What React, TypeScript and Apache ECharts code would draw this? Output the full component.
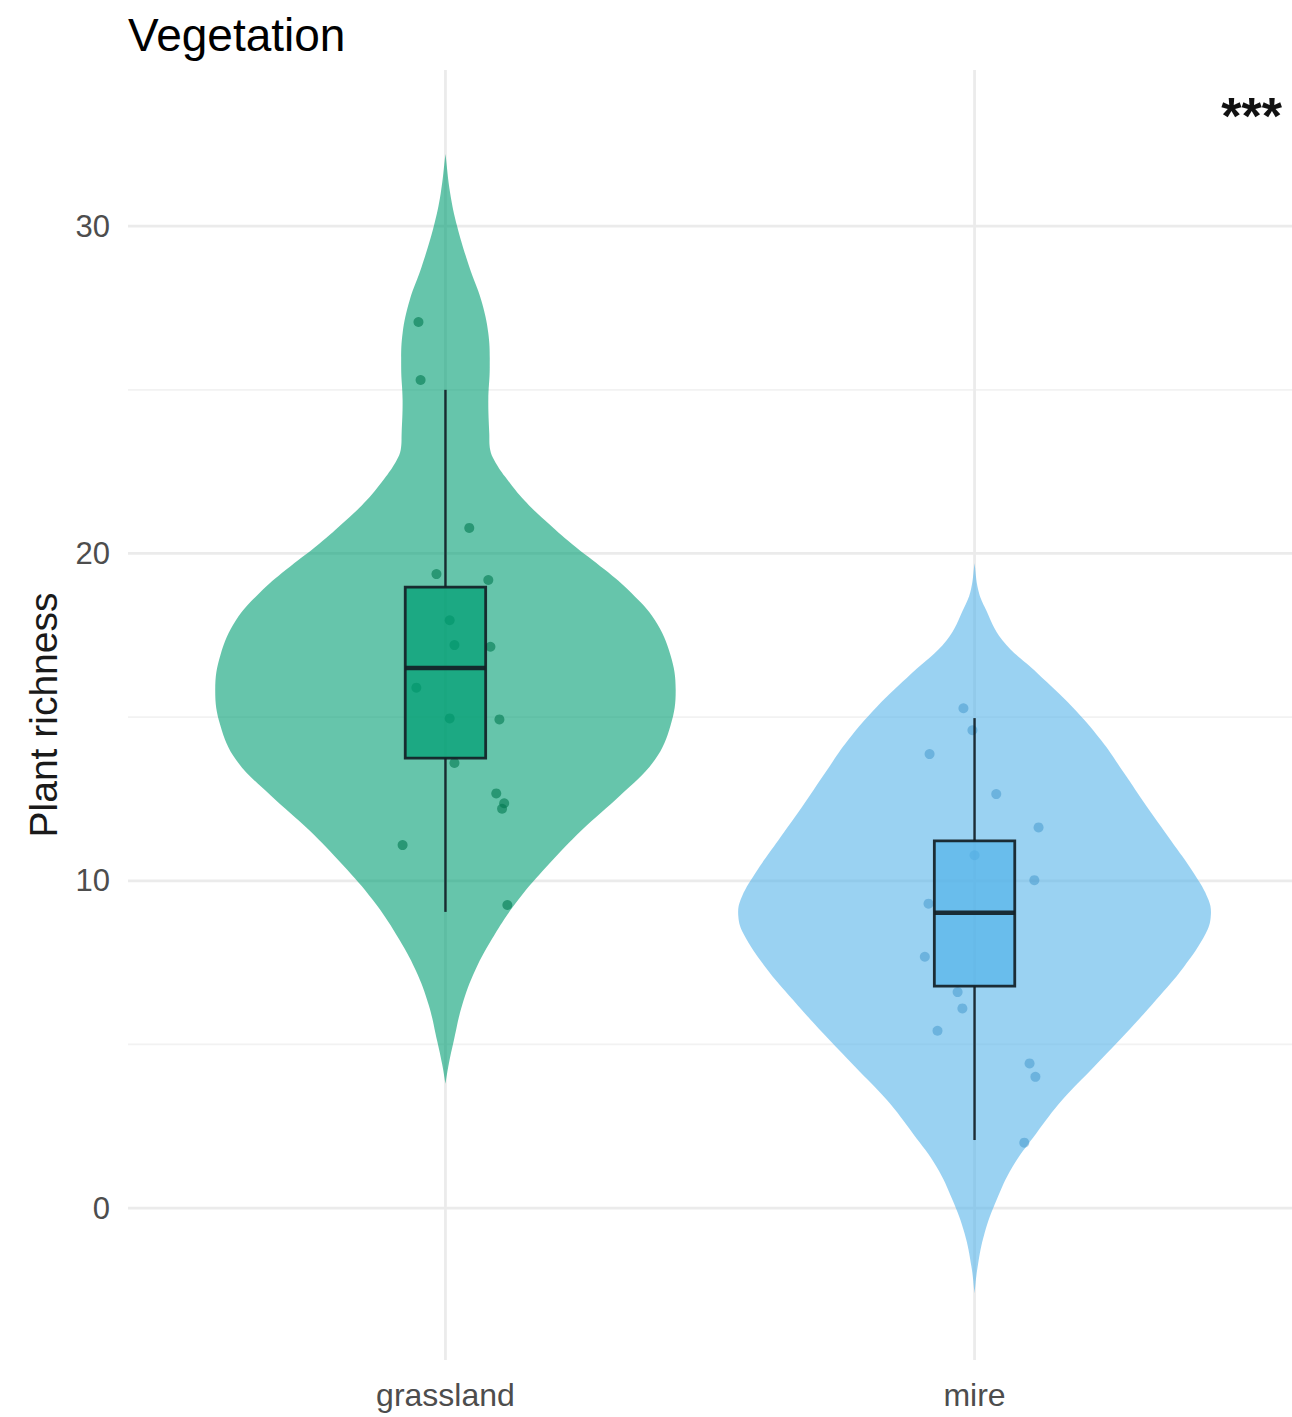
import React, { useEffect, useRef } from 'react';
import * as echarts from 'echarts';

// ---- data ----
const categories = ['grassland', 'mire'];
const yMajorTicks = [0, 10, 20, 30];
const yMinorTicks = [5, 15, 25];
const yMin = -4.64;
const yMax = 34.77;

// violin outlines: value (y) and relative density (1 = full half-width)
const grasslandDensityY = [32.2, 31.0, 30.0, 28.76, 27.74, 26.73, 25.7, 24.69, 23.67, 23.16, 22.85, 22.35, 21.63, 21.0, 20.3, 19.5, 18.8, 17.96, 16.9, 15.83, 14.76, 13.69, 12.62, 11.55, 10.48, 9.41, 8.34, 7.27, 6.2, 5.11, 4.4, 3.8];
const grasslandDensity = [0, 0.02, 0.049, 0.1, 0.15, 0.18, 0.186, 0.18, 0.184, 0.188, 0.205, 0.25, 0.33, 0.42, 0.53, 0.67, 0.78, 0.88, 0.945, 0.967, 0.946, 0.879, 0.736, 0.573, 0.431, 0.305, 0.205, 0.125, 0.07, 0.035, 0.014, 0];
const mireDensityY = [19.7, 18.9, 18.37, 17.35, 16.34, 15.32, 14.3, 13.29, 12.26, 11.24, 10.23, 9.41, 8.9, 8.39, 7.37, 6.36, 5.34, 4.32, 3.3, 2.28, 1.26, 0.24, -0.77, -1.79, -2.6];
const mireDensity = [0, 0.015, 0.042, 0.117, 0.264, 0.41, 0.531, 0.628, 0.724, 0.824, 0.921, 0.983, 0.992, 0.971, 0.879, 0.762, 0.636, 0.502, 0.368, 0.259, 0.159, 0.092, 0.042, 0.013, 0];

// boxplot stats: [lower whisker, Q1, median, Q3, upper whisker]
const grasslandBox = [9.05, 13.75, 16.5, 18.97, 25.0];
const mireBox = [2.08, 6.78, 9.02, 11.22, 14.97];

// jittered observations
const grasslandValues = [27.07, 25.3, 20.78, 19.37, 19.19, 17.96, 17.2, 17.15, 15.9, 14.93, 14.96, 13.6, 12.67, 12.37, 12.2, 11.09, 9.26];
const grasslandJitter = [-0.051, -0.047, 0.045, -0.017, 0.081, 0.008, 0.017, 0.085, -0.055, 0.102, 0.008, 0.017, 0.096, 0.111, 0.107, -0.081, 0.117];
const mireValues = [15.27, 14.6, 13.87, 12.65, 11.63, 10.78, 10.02, 9.3, 7.68, 6.6, 6.1, 5.42, 4.42, 4.01, 2.0];
const mireJitter = [-0.021, -0.004, -0.085, 0.041, 0.121, 0.0, 0.113, -0.087, -0.094, -0.032, -0.023, -0.07, 0.104, 0.115, 0.094];

const FONT = '"Liberation Sans", Arial, Helvetica, sans-serif';
const violinFill = ['rgba(0,158,115,0.6)', 'rgba(86,180,233,0.6)'];
const boxFill = ['rgba(0,158,115,0.72)', 'rgba(86,180,233,0.72)'];
const pointColor = ['rgba(0,120,80,0.75)', 'rgba(50,140,195,0.55)'];

export default function App() {
  const ref = useRef<HTMLDivElement>(null);

  useEffect(() => {
    if (!ref.current) return;
    const chart = echarts.init(ref.current, undefined, { renderer: 'svg' });

    const violinY = [grasslandDensityY, mireDensityY];
    const violinD = [grasslandDensity, mireDensity];
    const boxes = [grasslandBox, mireBox];
    const violinHalf = 0.45;
    const boxHalf = 0.076;

    const gridData = [
      ...yMajorTicks.map((v) => [v, 1]),
      ...yMinorTicks.map((v) => [v, 0]),
    ];

    const option: any = {
      animation: false,
      backgroundColor: '#ffffff',
      title: {
        text: 'Vegetation',
        left: 123,
        top: 7,
        textStyle: { fontSize: 46, fontWeight: 'normal', color: '#000', fontFamily: FONT },
      },
      grid: { left: 128, top: 70, width: 1168, height: 1290, containLabel: false },
      xAxis: {
        type: 'value',
        min: 0.4,
        max: 2.6,
        axisLine: { show: false },
        axisTick: { show: false },
        splitLine: { show: false },
        axisLabel: {
          customValues: [1, 2],
          formatter: (v: number) => categories[Math.round(v) - 1] ?? '',
          fontSize: 32,
          color: '#4d4d4d',
          fontFamily: FONT,
          margin: 19,
        },
      },
      yAxis: {
        type: 'value',
        min: yMin,
        max: yMax,
        name: 'Plant richness',
        nameLocation: 'middle',
        nameRotate: 90,
        nameGap: 65,
        nameTextStyle: { fontSize: 39, color: '#1a1a1a', fontFamily: FONT },
        axisLine: { show: false },
        axisTick: { show: false },
        splitLine: { show: false },
        axisLabel: {
          customValues: yMajorTicks,
          fontSize: 31,
          color: '#4d4d4d',
          fontFamily: FONT,
          margin: 18,
        },
      },
      graphic: [
        {
          type: 'text',
          right: 10,
          top: 90,
          style: { text: '***', fontSize: 52, fontWeight: 'bold', fill: '#111', fontFamily: FONT },
        },
      ],
      series: [
        {
          type: 'custom',
          name: 'hgrid',
          z: 0,
          silent: true,
          data: gridData,
          renderItem: (params: any, api: any) => {
            const v = api.value(0);
            const major = api.value(1) === 1;
            const p1 = api.coord([0.4, v]);
            const p2 = api.coord([2.6, v]);
            return {
              type: 'line',
              shape: { x1: p1[0], y1: p1[1], x2: p2[0], y2: p2[1] },
              style: { stroke: major ? '#ebebeb' : '#f2f2f2', lineWidth: major ? 2.8 : 1.8 },
            };
          },
        },
        {
          type: 'custom',
          name: 'vgrid',
          z: 0,
          silent: true,
          data: categories.map((_, i) => [i + 1]),
          renderItem: (params: any, api: any) => {
            const c = api.value(0);
            const p1 = api.coord([c, yMin]);
            const p2 = api.coord([c, yMax]);
            return {
              type: 'line',
              shape: { x1: p1[0], y1: p1[1], x2: p2[0], y2: p2[1] },
              style: { stroke: '#ebebeb', lineWidth: 2.8 },
            };
          },
        },
        {
          type: 'custom',
          name: 'violin',
          z: 1,
          silent: true,
          data: categories.map((_, i) => [i + 1, 0]),
          renderItem: (params: any, api: any) => {
            const i = params.dataIndex;
            const c = i + 1;
            const ys = violinY[i];
            const ds = violinD[i];
            const right = ys.map((y, k) => api.coord([c + ds[k] * violinHalf, y]));
            const left = ys.map((y, k) => api.coord([c - ds[k] * violinHalf, y])).reverse();
            return {
              type: 'polygon',
              shape: { points: right.concat(left), smooth: 0.4 },
              style: { fill: violinFill[i], stroke: 'none' },
            };
          },
        },
        {
          type: 'scatter',
          name: 'grassland points',
          z: 2,
          symbol: 'circle',
          symbolSize: 10,
          itemStyle: { color: pointColor[0] },
          data: grasslandValues.map((v, k) => [1 + grasslandJitter[k], v]),
        },
        {
          type: 'scatter',
          name: 'mire points',
          z: 2,
          symbol: 'circle',
          symbolSize: 10,
          itemStyle: { color: pointColor[1] },
          data: mireValues.map((v, k) => [2 + mireJitter[k], v]),
        },
        {
          type: 'custom',
          name: 'box',
          z: 3,
          silent: true,
          data: categories.map((_, i) => [i + 1, ...boxes[i]]),
          renderItem: (params: any, api: any) => {
            const i = params.dataIndex;
            const c = i + 1;
            const [lo, q1, med, q3, hi] = boxes[i];
            const top = api.coord([c, hi]);
            const bq3 = api.coord([c, q3]);
            const bq1 = api.coord([c, q1]);
            const bot = api.coord([c, lo]);
            const tl = api.coord([c - boxHalf, q3]);
            const br = api.coord([c + boxHalf, q1]);
            const ml = api.coord([c - boxHalf, med]);
            const mr = api.coord([c + boxHalf, med]);
            const stroke = 'rgba(18,32,38,0.92)';
            return {
              type: 'group',
              children: [
                { type: 'line', shape: { x1: top[0], y1: top[1], x2: bq3[0], y2: bq3[1] }, style: { stroke, lineWidth: 2.4 } },
                { type: 'line', shape: { x1: bq1[0], y1: bq1[1], x2: bot[0], y2: bot[1] }, style: { stroke, lineWidth: 2.4 } },
                {
                  type: 'rect',
                  shape: { x: tl[0], y: tl[1], width: br[0] - tl[0], height: br[1] - tl[1] },
                  style: { fill: boxFill[i], stroke, lineWidth: 2.8 },
                },
                { type: 'line', shape: { x1: ml[0], y1: ml[1], x2: mr[0], y2: mr[1] }, style: { stroke, lineWidth: 4.5 } },
              ],
            };
          },
        },
      ],
    };

    chart.setOption(option);
    return () => chart.dispose();
  }, []);

  return (
    <div
      ref={ref}
      style={{ position: 'absolute', left: 0, top: 0, width: 1292, height: 1417, background: '#fff' }}
    />
  );
}
